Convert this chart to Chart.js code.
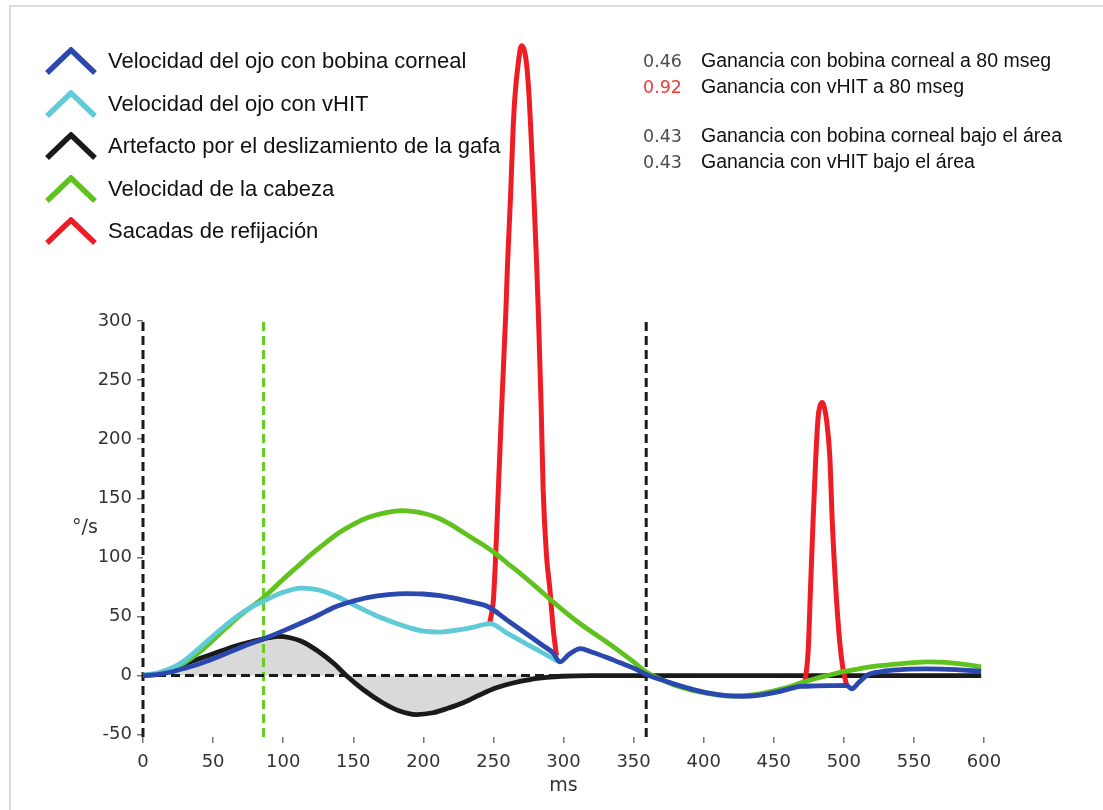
<!DOCTYPE html>
<html>
<head>
<meta charset="utf-8">
<script src="https://cdn.jsdelivr.net/npm/chart.js@4.4.1/dist/chart.umd.min.js"></script>
<style>
  html, body { margin: 0; padding: 0; background: #fff; }
  #wrap { position: relative; width: 1103px; height: 810px; overflow: hidden; background: #fff; }
  #frame { position: absolute; left: 9px; top: 5px; right: -20px; bottom: -20px;
           border-left: 2px solid #dcdcdc; border-top: 2px solid #dcdcdc; }
  #chart { position: absolute; left: 0; top: 0; }
  .txt { position: absolute; white-space: nowrap; line-height: 1.2; }
  .leg { font-family: "Liberation Sans", Arial, sans-serif; font-size: 22px; color: #111; }
  .gain { font-family: "Liberation Sans", Arial, sans-serif; font-size: 19.5px; color: #111; }
  .num { font-family: "DejaVu Sans", Verdana, sans-serif; font-size: 17.5px; color: #4d4d4d; }
  .num.hi { color: #f03a3a; }
  .unit { font-family: "DejaVu Sans", Verdana, sans-serif; font-size: 19px; color: #333; }
  .chev { position: absolute; }
</style>
</head>
<body>
<div id="wrap">
  <div id="frame"></div>
  <canvas id="chart" width="1103" height="810"></canvas>
</div>
<script>
// ---- axis ticks ----
const xTicks = [0, 50, 100, 150, 200, 250, 300, 350, 400, 450, 500, 550, 600];
const yTicks = [-50, 0, 50, 100, 150, 200, 250, 300];
const yMin = -52, yMax = 300;

// ---- head velocity (°/s) ----
const headT = [0, 10, 20, 30, 40, 50, 60, 70, 86, 100, 110, 120, 130, 140, 150, 160, 170, 185, 200, 210, 220, 230, 240, 250, 260, 270, 280, 290, 300, 310, 320, 330, 340, 350, 359, 370, 380, 390, 400, 410, 420, 430, 440, 450, 460, 470, 480, 490, 500, 510, 520, 535, 550, 560, 570, 580, 590, 598];
const headV = [0, 1.5, 5, 11, 19.5, 30, 41, 51.5, 66, 81.5, 92, 102.5, 112, 121, 128, 133.5, 137, 139.5, 137.3, 133.5, 127.5, 120, 112.5, 104.5, 95, 85.5, 75.5, 65, 55, 45.5, 37, 29, 20.5, 11.5, 3, -3.5, -8.5, -12, -14.5, -16.5, -17.3, -17, -15.5, -13, -10, -6, -2.5, 0.5, 3.5, 5.5, 7.5, 9.5, 11, 11.5, 11.3, 10.3, 8.8, 7.3];

// ---- eye velocity, vHIT (°/s) ----
const vhitT = [0, 10, 20, 30, 40, 50, 60, 70, 80, 86, 100, 113, 125, 137, 150, 165, 180, 190, 200, 212, 224, 236, 247.5, 260, 275, 285, 296];
const vhitV = [0.5, 2, 6, 13, 23, 33.5, 43.5, 52.5, 59.5, 63, 70.5, 74, 72.5, 67.5, 60, 51.5, 44.5, 40.5, 37.5, 36.8, 38.5, 41, 44, 35.7, 25.8, 19.3, 12];

// ---- eye velocity, corneal search coil (°/s) ----
const coilT = [0, 10, 20, 30, 42, 55, 66, 75, 86, 100, 113, 125, 137, 150, 160, 175, 188, 200, 212, 223, 233, 246.5, 260, 275, 285, 292.7, 297.4, 304, 312, 320, 331, 340, 350, 359, 368, 378, 388, 397, 407, 416, 428, 440, 452, 464, 469, 480, 490, 502, 505.5, 511, 517, 525, 535, 559, 580, 598];
const coilV = [0, 0.8, 3, 6.3, 10.7, 16.5, 22, 26.3, 31, 37.8, 44.5, 51, 58, 63, 66, 68.5, 69.3, 69, 67.6, 65.3, 62.5, 58, 46.7, 34.1, 25.6, 19, 11.5, 18, 22.8, 20, 15.3, 11, 6.3, 1, -3, -6.8, -10.3, -13.2, -15.5, -16.9, -17.5, -16.5, -14, -10.4, -9.2, -8.8, -8.6, -8.4, -11.3, -5.5, 0.5, 3, 4.5, 5.6, 5, 3.6];

// ---- goggle slippage artefact (°/s) ----
const slipT = [0, 10, 18, 30, 42, 55, 66, 75, 86, 96.5, 105, 113, 125, 137, 145, 157, 171, 183, 195, 207, 218, 228.5, 240, 252, 264, 276, 288, 298.6, 320, 360, 400, 450, 500, 550, 598];
const slipV = [0, 1.5, 5, 10, 15, 20.5, 25, 28, 31, 33.2, 32, 29, 20.5, 9.3, 0, -11.8, -23, -30, -33, -31.5, -27.5, -23, -16.5, -10.4, -6.3, -3.4, -1.6, -0.6, 0, 0, 0, 0, 0, 0, 0];

// ---- refixation saccades (°/s); null separates the two saccades ----
const sacT = [247.5, 249, 250, 251.6, 253.5, 256, 258.9, 260.1, 262.2, 264, 265.3, 267.7, 270, 273.6, 275.5, 276.7, 278.9, 280.8, 282, 284, 285.5, 287.9, 290.3, 292.7, 295,
              380,
              471.5, 472.5, 474.6, 476.2, 478, 480, 481.7, 483, 484.8, 486.3, 487.9, 490, 491.8, 494.3, 497.1, 499.5, 502];
const sacV = [45, 55, 64, 101, 157, 230, 309, 349, 405, 461, 489, 518, 533, 518, 489, 461, 405, 349, 309, 230, 157, 101, 73, 39, 17,
              null,
              -8, -3, 22, 73, 129, 185, 219, 228, 231, 226, 214, 185, 129, 73, 28, 5, -8];

// ---- reference markers (ms) ----
const onsetMs = 0;
const gainMs = 86;
const endMs = 359;

// ---- legend and gain annotations ----
const seriesNames = ['Velocidad del ojo con bobina corneal', 'Velocidad del ojo con vHIT', 'Artefacto por el deslizamiento de la gafa', 'Velocidad de la cabeza', 'Sacadas de refijación'];
const seriesColors = ['#2b48ae', '#5fcbd7', '#1a1a1a', '#5fc21d', '#ee1d25'];
const gainValues = ['0.46', '0.92', '0.43', '0.43'];
const gainLabels = ['Ganancia con bobina corneal a 80 mseg', 'Ganancia con vHIT a 80 mseg', 'Ganancia con bobina corneal bajo el área', 'Ganancia con vHIT bajo el área'];

const [COIL, VHIT, SLIP, HEAD, SACC] = seriesColors;

function pts(t, v) { return t.map((x, i) => ({ x: x, y: v[i] })); }

function curve(data, color, order, extra) {
  return Object.assign({
    data: data, borderColor: color, borderWidth: 4.8, pointRadius: 0,
    cubicInterpolationMode: 'monotone', fill: false, clip: false, order: order
  }, extra || {});
}

function dashed(data, color, order) {
  return {
    data: data, borderColor: color, borderWidth: 3, borderDash: [9, 5],
    pointRadius: 0, tension: 0, fill: false, clip: false, order: order, borderCapStyle: 'butt'
  };
}

const datasets = [
  curve(pts(coilT, coilV), COIL, 1),
  curve(pts(vhitT, vhitV), VHIT, 2),
  curve(pts(headT, headV), HEAD, 3),
  curve(pts(sacT, sacV), SACC, 4, { borderWidth: 5, spanGaps: false }),
  curve(pts(slipT, slipV), SLIP, 5, { fill: { value: 0 }, backgroundColor: '#d9d9d9' }),
  dashed([{ x: onsetMs, y: 0 }, { x: 300, y: 0 }], '#1a1a1a', 6),
  dashed([{ x: onsetMs, y: yMin }, { x: onsetMs, y: yMax }], '#1a1a1a', 7),
  dashed([{ x: endMs, y: yMin }, { x: endMs, y: yMax }], '#1a1a1a', 7),
  dashed([{ x: gainMs, y: yMin }, { x: gainMs, y: yMax }], '#66cc22', 7)
];

const tickFont = { family: 'DejaVu Sans', size: 18 };

new Chart(document.getElementById('chart'), {
  type: 'line',
  data: { datasets: datasets },
  options: {
    responsive: false,
    animation: false,
    events: [],
    layout: { padding: { left: 0, right: 119, top: 321, bottom: 0 } },
    plugins: {
      legend: { display: false },
      tooltip: { enabled: false },
      filler: { drawTime: 'beforeDatasetsDraw' }
    },
    elements: { line: { borderJoinStyle: 'round' } },
    scales: {
      x: {
        type: 'linear', min: 0, max: 600,
        afterBuildTicks: s => { s.ticks = xTicks.map(v => ({ value: v })); },
        afterFit: s => { s.height = 73; },
        border: { display: false },
        grid: { drawOnChartArea: false, drawTicks: true, tickLength: 6, tickColor: '#777', lineWidth: 1.5 },
        ticks: { font: tickFont, color: '#333', padding: 9, maxRotation: 0, autoSkip: false },
        title: { display: true, text: 'ms', font: { family: 'DejaVu Sans', size: 19 }, color: '#333', padding: { top: 0, bottom: 13 } }
      },
      y: {
        type: 'linear', min: yMin, max: yMax,
        afterBuildTicks: s => { s.ticks = yTicks.map(v => ({ value: v })); },
        afterFit: s => { s.width = 143; },
        border: { display: false },
        grid: { drawOnChartArea: false, drawTicks: true, tickLength: 6, tickColor: '#777', lineWidth: 1.5 },
        ticks: { font: tickFont, color: '#333', padding: 5, autoSkip: false }
      }
    }
  }
});

// ---- HTML text placed by baseline ----
const wrap = document.getElementById('wrap');
function placeText(cls, text, x, baseline, color) {
  const el = document.createElement('div');
  el.className = 'txt ' + cls;
  el.textContent = text;
  if (color) el.style.color = color;
  el.style.left = x + 'px';
  el.style.top = '0px';
  wrap.appendChild(el);
  const probe = document.createElement('span');
  probe.style.display = 'inline-block';
  probe.style.width = '0';
  probe.style.height = '0';
  el.appendChild(probe);
  const b = probe.offsetTop;
  el.removeChild(probe);
  el.style.top = (baseline - b) + 'px';
  return el;
}

function chevron(color, x, y) {
  const ns = 'http://www.w3.org/2000/svg';
  const svg = document.createElementNS(ns, 'svg');
  svg.setAttribute('width', '54');
  svg.setAttribute('height', '30');
  svg.setAttribute('class', 'chev');
  svg.style.left = x + 'px';
  svg.style.top = y + 'px';
  const pl = document.createElementNS(ns, 'polyline');
  pl.setAttribute('points', '3,26 27,3 51,26');
  pl.setAttribute('fill', 'none');
  pl.setAttribute('stroke', color);
  pl.setAttribute('stroke-width', '5.5');
  pl.setAttribute('stroke-linejoin', 'miter');
  svg.appendChild(pl);
  wrap.appendChild(svg);
}

seriesNames.forEach((name, i) => {
  const base = 68 + i * 42.5;
  chevron(seriesColors[i], 44, base - 21);
  placeText('leg', name, 108, base);
});

const gainBase = [67, 93, 142, 168];
gainValues.forEach((v, i) => {
  placeText('num' + (i === 1 ? ' hi' : ''), v, 643, gainBase[i]);
  placeText('gain', gainLabels[i], 701, gainBase[i]);
});

placeText('unit', '°/s', 72, 533);
</script>
</body>
</html>
